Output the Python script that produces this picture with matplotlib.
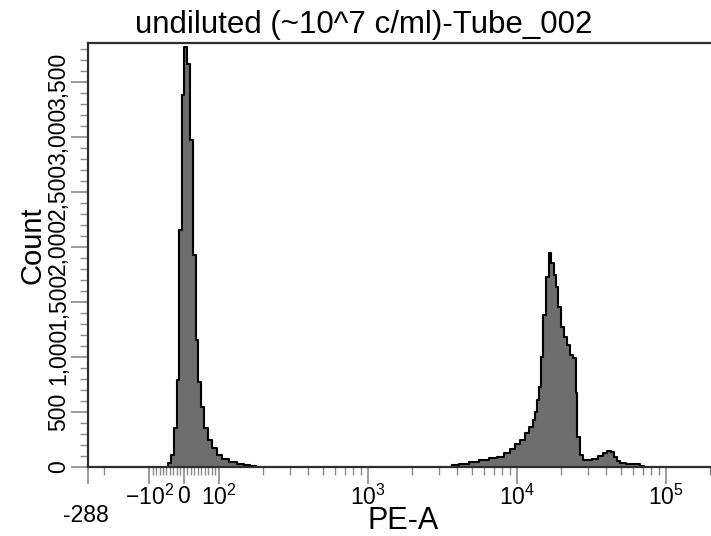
import matplotlib
matplotlib.use('Agg')
import matplotlib.pyplot as plt
from matplotlib.ticker import FixedLocator, FuncFormatter

plt.rcParams['font.family'] = ['Liberation Sans', 'DejaVu Sans']
plt.rcParams['mathtext.fontset'] = 'custom'
plt.rcParams['mathtext.rm'] = 'Liberation Sans'
plt.rcParams['mathtext.it'] = 'Liberation Sans:italic'
plt.rcParams['mathtext.bf'] = 'Liberation Sans:bold'

# histogram (bin centre in PE-A units, events per bin)
neg_pe = [-48, -42, -33, -23, -16, -10, -2, 5, 14, 22, 30, 38, 46, 54, 64, 75, 87,
          101, 111, 125, 141, 156, 170, 185]
neg_count = [0, 36, 109, 355, 790, 2155, 3380, 3815, 3655, 2970, 1925, 1155, 775, 545,
             355, 245, 170, 110, 70, 45, 30, 15, 5, 0]

pos_pe = [3650, 3770, 4405, 5150, 6020, 7030, 7850, 8625, 9320, 10070, 10890, 11770,
          12530, 13140, 13560, 13990, 14430, 14890, 15360, 16100, 16870, 17410, 17960,
          18530, 19410, 20340, 21310, 22330, 23390, 24510, 25290, 25920, 26950, 28700,
          31030, 33550, 36260, 39200, 41700, 43700, 45800, 48000, 51100, 57900, 64600,
          69800, 73200]
pos_count = [0, 18, 27, 45, 64, 82, 91, 127, 164, 209, 245, 309, 364, 427, 500, 609, 727,
             1000, 1380, 1727, 1945, 1855, 1745, 1636, 1455, 1273, 1182, 1109, 1018, 991,
             673, 273, 109, 64, 64, 73, 100, 127, 145, 136, 91, 55, 36, 27, 27, 9, 0]

x_major = [-100, 0, 100, 1000, 10000, 100000]
x_major_labels = [r'$\mathregular{-10^{2}}$', '0', r'$\mathregular{10^{2}}$',
                  r'$\mathregular{10^{3}}$', r'$\mathregular{10^{4}}$', r'$\mathregular{10^{5}}$']
y_major = [0, 500, 1000, 1500, 2000, 2500, 3000, 3500]

title = 'undiluted (~10^7 c/ml)-Tube_002'
x_min_label = '-288'

fill_c = '#6e6e6e'
tick_c = '#8a8a8a'
spine_c = '#2e2e2e'

fig = plt.figure(figsize=(7.11, 5.36), dpi=100)
ax = fig.add_axes([88 / 711, 69 / 536, 640 / 711, 424 / 536])

ax.set_xscale('symlog', linthresh=100, linscale=0.21)
ax.set_xlim(-257, 262143)
ax.set_ylim(0, 3850)

for xs, cs in [(neg_pe, neg_count), (pos_pe, pos_count)]:
    ax.fill_between(xs, cs, step='mid', color=fill_c, linewidth=0)
    ax.plot(xs, cs, drawstyle='steps-mid', color='black', lw=1.5)

# ticks
minor_x = [-200] + list(range(-90, 0, 10)) + list(range(10, 100, 10))
for dec in [100, 1000, 10000]:
    minor_x += [dec * k for k in range(2, 10)]
minor_x += [200000]
ax.xaxis.set_major_locator(FixedLocator(x_major + [-257]))
ax.set_xticklabels(x_major_labels + [''])
ax.xaxis.set_minor_locator(FixedLocator(minor_x))
ax.yaxis.set_major_locator(FixedLocator(y_major))
ax.yaxis.set_minor_locator(FixedLocator([v for v in range(0, 3850, 100) if v % 500]))
ax.yaxis.set_major_formatter(FuncFormatter(lambda v, p: f'{int(v):,}'))

ax.tick_params(which='major', length=12, width=1.2, color=tick_c, labelsize=16.5, pad=1)
ax.tick_params(which='minor', length=6, width=1.0, color=tick_c)
ax.tick_params(axis='y', labelrotation=90)
for lab in ax.get_yticklabels():
    lab.set_va('center')

for side in ['left', 'bottom', 'top']:
    ax.spines[side].set_color(spine_c)
    ax.spines[side].set_linewidth(1.6)
ax.spines['right'].set_visible(False)

fig.text(364 / 711, 1 - 25 / 536, title, ha='center', va='center', fontsize=22.5)
fig.text(33 / 711, 1 - 245 / 536, 'Count', rotation=90, ha='center', va='center', fontsize=21)
fig.text(403 / 711, 1 - 521 / 536, 'PE-A', ha='center', va='center', fontsize=22)
fig.text(86 / 711, 1 - 515 / 536, x_min_label, ha='center', va='center', fontsize=16.5)

fig.savefig('out.png', dpi=100)
